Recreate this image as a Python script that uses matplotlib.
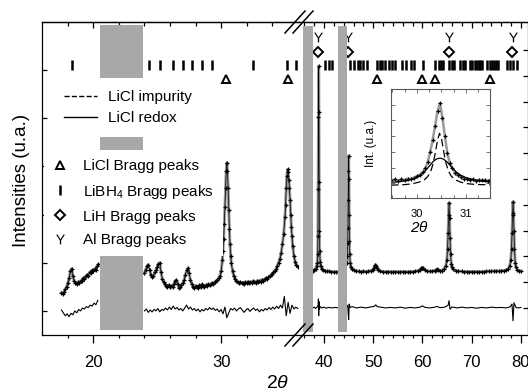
import numpy as np
import matplotlib
matplotlib.use("Agg")
import matplotlib.pyplot as plt
from matplotlib.lines import Line2D
from matplotlib.transforms import blended_transform_factory

plt.rcParams["font.family"] = ["Liberation Sans", "DejaVu Sans"]
plt.rcParams["mathtext.fontset"] = "custom"
plt.rcParams["mathtext.rm"] = "Liberation Sans"
plt.rcParams["mathtext.it"] = "Liberation Sans:italic"

# ---- observed pattern, low-angle part (left scale) ----
obs_a_x = [17.5, 17.6, 17.7, 17.8, 17.9, 18.0, 18.1, 18.2, 18.3, 18.4, 18.5, 18.6, 18.7, 18.8, 18.9,
           19.0, 19.1, 19.2, 19.3, 19.4, 19.5, 19.6, 19.7, 19.8, 19.9, 20.0, 20.1, 20.2, 20.3, 20.4]
obs_a_y = [0.38, 0.36, 0.40, 0.45, 0.50, 0.58, 0.68, 0.82, 0.88, 0.72, 0.62, 0.58, 0.55, 0.60, 0.58,
           0.63, 0.62, 0.68, 0.66, 0.72, 0.75, 0.73, 0.80, 0.78, 0.84, 0.82, 0.88, 0.86, 0.93, 0.97]

obs_b_x = [24.0, 24.1, 24.2, 24.3, 24.4, 24.5, 24.6, 24.7, 24.8, 24.9, 25.0, 25.1, 25.2, 25.3, 25.4,
           25.5, 25.6, 25.7, 25.8, 25.9, 26.0, 26.1, 26.2, 26.3, 26.4, 26.5, 26.6, 26.7, 26.8, 26.9,
           27.0, 27.1, 27.2, 27.3, 27.4, 27.5, 27.6, 27.7, 27.8, 27.9, 28.0, 28.1, 28.2, 28.3, 28.4,
           28.5, 28.6, 28.7, 28.8, 28.9, 29.0, 29.1, 29.2, 29.3, 29.4, 29.5, 29.6, 29.7, 29.8, 29.9,
           30.0, 30.1, 30.15, 30.2, 30.25, 30.3, 30.35, 30.4, 30.45, 30.5, 30.55, 30.6, 30.65, 30.7,
           30.75, 30.8, 30.9, 31.0, 31.1, 31.2, 31.3, 31.4, 31.5, 31.6, 31.7, 31.8, 31.9, 32.0, 32.1,
           32.2, 32.3, 32.4, 32.5, 32.6, 32.7, 32.8, 32.9, 33.0, 33.1, 33.2, 33.3, 33.4, 33.5, 33.6,
           33.7, 33.8, 33.9, 34.0, 34.1, 34.2, 34.3, 34.4, 34.5, 34.6, 34.7, 34.8, 34.9, 35.0, 35.05,
           35.1, 35.15, 35.2, 35.25, 35.3, 35.35, 35.4, 35.45, 35.5, 35.55, 35.6, 35.7, 35.8, 35.9, 36.0]
obs_b_y = [0.78, 0.86, 0.93, 0.96, 0.86, 0.74, 0.70, 0.73, 0.80, 0.85, 0.92, 0.98, 1.00, 0.80, 0.66,
           0.60, 0.55, 0.52, 0.50, 0.54, 0.49, 0.52, 0.50, 0.56, 0.62, 0.64, 0.55, 0.48, 0.50, 0.54,
           0.58, 0.64, 0.74, 0.84, 0.89, 0.78, 0.64, 0.56, 0.50, 0.47, 0.52, 0.50, 0.48, 0.53, 0.50,
           0.55, 0.52, 0.50, 0.54, 0.52, 0.56, 0.53, 0.55, 0.58, 0.56, 0.60, 0.62, 0.64, 0.68, 0.72,
           0.82, 1.05, 1.25, 1.50, 1.80, 2.15, 2.55, 2.90, 3.08, 2.90, 2.55, 2.10, 1.70, 1.38,
           1.15, 1.00, 0.82, 0.72, 0.66, 0.63, 0.60, 0.58, 0.60, 0.57, 0.59, 0.56, 0.60, 0.58, 0.61,
           0.57, 0.60, 0.59, 0.62, 0.60, 0.58, 0.62, 0.60, 0.63, 0.61, 0.65, 0.63, 0.66, 0.68, 0.67,
           0.70, 0.72, 0.74, 0.76, 0.80, 0.83, 0.87, 0.93, 1.00, 1.08, 1.20, 1.38, 1.60, 1.95, 2.20,
           2.55, 2.80, 2.94, 2.88, 2.72, 2.55, 2.30, 2.00, 1.75, 1.55, 1.35, 1.15, 1.02, 0.95, 0.92]

# difference curve, low-angle part (step 0.15 deg)
diff_a_start = 17.5
diff_a_y = [0.02, -0.04, -0.10, -0.06, -0.12, -0.05, -0.08, 0.00, -0.04, 0.03,
            0.00, 0.06, 0.04, 0.09, 0.07, 0.12, 0.10, 0.16, 0.13, 0.22]
diff_b_start = 24.0
diff_b_y = [0.00, 0.04, -0.03, 0.02, -0.02, 0.03, 0.00, 0.05, -0.02, 0.03, 0.01, 0.06, 0.02, 0.08,
            0.03, 0.10, 0.04, 0.07, 0.02, 0.05, 0.00, 0.06, 0.12, 0.04, 0.08, 0.02, 0.05, 0.00,
            0.04, -0.02, 0.03, 0.00, 0.05, 0.02, 0.07, 0.03, 0.06, 0.01, 0.04, -0.02, 0.03, -0.06,
            0.08, -0.14, -0.04, 0.05, 0.02, 0.06, 0.00, 0.04, 0.07, 0.02, -0.03, 0.02, 0.05, -0.01,
            0.03, 0.06, 0.01, 0.04, -0.02, 0.03, 0.00, 0.05, 0.02, 0.07, 0.03, 0.08, 0.04, 0.10,
            0.05, 0.12, 0.06, 0.30, -0.10, 0.18, -0.05, 0.12, 0.04, 0.08, 0.05]
diff_step = 0.15

# ---- observed pattern, high-angle part (right scale) ----
obs_c_x = [37.7, 38.0, 38.3, 38.5, 38.6, 38.7, 38.75, 38.8, 38.85, 38.9, 38.95, 39.0, 39.05, 39.1,
           39.2, 39.3, 39.5, 39.8, 40.2, 40.6, 41.0, 41.5, 42.0, 42.5, 42.9]
obs_c_y = [1.45, 1.48, 1.52, 1.62, 1.75, 2.10, 2.80, 4.60, 7.40, 9.38, 7.60, 4.90, 3.00, 2.20,
           1.80, 1.62, 1.52, 1.46, 1.44, 1.42, 1.42, 1.41, 1.40, 1.40, 1.40]

obs_d_x = [44.6, 44.7, 44.8, 44.85, 44.9, 44.95, 45.0, 45.05, 45.1, 45.15, 45.2, 45.3, 45.45, 45.7,
           46.0, 46.5, 47.0, 47.5, 48.0, 48.5, 49.0, 49.5, 49.9, 50.1, 50.3, 50.45, 50.6, 50.8,
           51.0, 51.4, 52.0, 52.5, 53.0, 53.5, 54.0, 54.5, 55.0, 55.5, 56.0, 56.5, 57.0, 57.5,
           58.0, 58.5, 59.0, 59.5, 59.8, 60.0, 60.2, 60.5, 61.0, 61.5, 62.0, 62.5, 62.8, 63.0,
           63.2, 63.5, 63.9, 64.3, 64.7, 64.95, 65.1, 65.2, 65.3, 65.4, 65.5, 65.6, 65.7, 65.85,
           66.0, 66.3, 66.8, 67.3, 68.0, 68.5, 69.0, 69.5, 70.0, 70.5, 71.0, 71.5, 72.0, 72.5,
           73.0, 73.5, 74.0, 74.5, 75.0, 75.5, 76.0, 76.5, 77.0, 77.4, 77.7, 77.95, 78.1, 78.2,
           78.3, 78.4, 78.5, 78.6, 78.7, 78.85, 79.0, 79.3, 79.6, 80.0]
obs_d_y = [1.75, 2.00, 2.50, 3.10, 4.20, 5.30, 5.90, 5.00, 3.60, 2.60, 2.10, 1.75, 1.58, 1.50,
           1.46, 1.44, 1.42, 1.41, 1.42, 1.41, 1.42, 1.44, 1.48, 1.55, 1.64, 1.68, 1.64, 1.54,
           1.47, 1.43, 1.41, 1.40, 1.41, 1.40, 1.40, 1.41, 1.40, 1.40, 1.41, 1.40, 1.40, 1.41,
           1.41, 1.42, 1.44, 1.48, 1.53, 1.56, 1.53, 1.47, 1.43, 1.42, 1.43, 1.45, 1.48, 1.50,
           1.48, 1.45, 1.45, 1.50, 1.62, 1.85, 2.30, 2.90, 3.60, 4.08, 3.50, 2.70, 2.10, 1.72,
           1.58, 1.50, 1.45, 1.43, 1.42, 1.41, 1.41, 1.40, 1.41, 1.40, 1.41, 1.40, 1.41, 1.41,
           1.42, 1.42, 1.42, 1.43, 1.43, 1.43, 1.44, 1.45, 1.47, 1.52, 1.62, 1.85, 2.30, 2.90,
           3.60, 4.12, 3.70, 3.00, 2.30, 1.75, 1.58, 1.48, 1.44, 1.42]

diff_c_x = [37.7, 38.0, 38.3, 38.6, 38.8, 38.85, 38.9, 38.95, 39.0, 39.2, 39.5, 39.9, 40.4, 41.0,
            41.6, 42.2, 42.9]
diff_c_y = [0.00, 0.03, -0.02, 0.04, 0.10, 0.35, -0.30, 0.25, -0.05, 0.05, 0.00, 0.03, -0.01, 0.02,
            0.00, 0.02, 0.00]
diff_d_x = [44.6, 44.8, 44.9, 45.0, 45.1, 45.3, 45.8, 46.5, 47.5, 48.5, 49.5, 50.2, 50.5, 50.8,
            51.5, 52.5, 53.5, 54.5, 55.5, 56.5, 57.5, 58.5, 59.5, 60.0, 60.5, 61.5, 62.5, 63.0,
            63.5, 64.5, 65.2, 65.4, 65.6, 66.0, 67.0, 68.0, 69.0, 70.0, 71.0, 72.0, 73.0, 74.0,
            75.0, 76.0, 77.0, 77.8, 78.2, 78.4, 78.6, 79.0, 79.5, 80.0]
diff_d_y = [0.05, 0.10, -0.20, -0.45, 0.15, 0.02, 0.05, 0.00, 0.03, 0.00, 0.04, 0.06, 0.12, 0.05,
            0.03, 0.00, 0.02, 0.00, 0.03, -0.01, 0.02, 0.00, 0.03, 0.08, 0.02, 0.00, 0.03, 0.06,
            0.01, 0.03, 0.10, 0.28, -0.05, 0.04, 0.00, 0.03, 0.00, 0.02, -0.01, 0.02, 0.00, 0.03,
            0.01, 0.02, 0.00, 0.04, 0.15, -0.50, 0.20, 0.02, 0.00, 0.02]

# excluded regions
excluded_left = (20.55, 23.85)
excluded_right = [(35.8, 37.7), (42.9, 44.6)]

# Bragg peak positions
licl_peaks = [30.4, 35.2, 50.7, 60.0, 62.6, 73.8]
libh4_peaks = [18.33, 24.36, 25.22, 26.26, 27.0, 27.75, 28.5, 29.3, 32.5, 35.17, 35.88,
               40.2, 40.9, 41.6, 45.3, 46.1, 46.8, 47.3, 47.9, 48.8, 50.7, 51.4, 51.7, 52.4,
               53.1, 53.8, 54.4, 55.8, 56.7, 57.6, 58.3, 60.1, 62.6, 63.4, 63.8, 64.2, 65.3,
               66.0, 66.4, 67.6, 68.2, 68.7, 69.7, 70.1, 70.7, 71.0, 71.4, 71.7, 72.1, 73.1,
               73.7, 74.1, 74.6, 75.0, 75.4, 77.1, 77.8, 78.5, 79.2]
lih_peaks = [38.85, 44.95, 65.35, 78.2]
al_peaks = [38.85, 44.95, 65.35, 78.35]

# inset: LiCl (111) reflection
ins_obs_x = [29.48, 29.55, 29.62, 29.68, 29.75, 29.82, 29.88, 29.94, 30.0, 30.06, 30.12, 30.17,
             30.22, 30.27, 30.32, 30.37, 30.42, 30.47, 30.52, 30.57, 30.62, 30.67, 30.72, 30.78,
             30.84, 30.9, 30.96, 31.02, 31.08, 31.14, 31.2, 31.26, 31.32, 31.38, 31.44, 31.49]
ins_obs_y = [0.18, 0.24, 0.15, 0.26, 0.20, 0.30, 0.28, 0.36, 0.45, 0.55, 0.72, 0.95,
             1.35, 2.00, 2.75, 3.65, 4.60, 5.10, 4.15, 3.00, 1.90, 1.30, 0.95, 0.66,
             0.50, 0.40, 0.30, 0.28, 0.22, 0.25, 0.16, 0.22, 0.18, 0.20, 0.15, 0.18]
ins_imp_x = [29.47, 29.7, 29.9, 30.05, 30.15, 30.22, 30.28, 30.33, 30.38, 30.42, 30.46, 30.5,
             30.54, 30.59, 30.64, 30.7, 30.78, 30.88, 31.0, 31.2, 31.49]
ins_imp_y = [-0.12, -0.10, -0.04, 0.08, 0.22, 0.42, 0.75, 1.25, 2.05, 2.75, 3.18, 2.85,
             2.10, 1.30, 0.80, 0.45, 0.22, 0.08, -0.02, -0.08, -0.10]
ins_red_x = [29.47, 29.65, 29.8, 29.95, 30.05, 30.15, 30.25, 30.33, 30.4, 30.47, 30.54, 30.62,
             30.7, 30.8, 30.9, 31.0, 31.15, 31.3, 31.49]
ins_red_y = [0.06, 0.10, 0.17, 0.30, 0.45, 0.72, 1.08, 1.38, 1.55, 1.60, 1.54, 1.34,
             1.05, 0.72, 0.50, 0.36, 0.22, 0.14, 0.08]

W, H = 528, 392
GRAY_BAR = "#a8a8a8"
GRAY_FIT = "#9a9a9a"
BREAK_X = 36.1
Y_MARK = r"$\mathrm{Y}$"


def rect(x0, y0, x1, y1):
    return [x0 / W, 1 - y1 / H, (x1 - x0) / W, (y1 - y0) / H]


def draw_obs(ax, x, y):
    ax.plot(x, y, color=GRAY_FIT, lw=2.1, zorder=2, solid_capstyle="round")
    ax.plot(x, y, color="black", lw=0.5, marker="+", ms=3.5, mew=0.9, zorder=2.1)


def draw_rows(ax, lo, hi):
    tr = blended_transform_factory(ax.transData, ax.transAxes)
    pick = lambda vals: [v for v in vals if lo <= v < hi]
    kw = dict(ls="none", transform=tr, clip_on=False, zorder=2)
    ax.plot(pick(al_peaks), [0.953] * len(pick(al_peaks)), marker=Y_MARK, ms=7, mew=0,
            color="black", **kw)
    ax.plot(pick(lih_peaks), [0.905] * len(pick(lih_peaks)), marker="D", ms=5.5, mew=1.4,
            mfc="white", mec="black", **kw)
    ax.plot(pick(libh4_peaks), [0.863] * len(pick(libh4_peaks)), marker="|", ms=7, mew=1.8,
            color="black", **kw)
    ax.plot(pick(licl_peaks), [0.817] * len(pick(licl_peaks)), marker="^", ms=6, mew=1.4,
            mfc="white", mec="black", **kw)


fig = plt.figure(figsize=(W / 100, H / 100), dpi=100)
ax1 = fig.add_axes(rect(42, 22, 299, 335))
ax2 = fig.add_axes(rect(299, 22, 528, 335))

ax1.set_xlim(15.98, BREAK_X)
ax1.set_ylim(-0.5, 6.0)
ax2.set_xlim(34.9, 81.45)
ax2.set_ylim(-1.05, 11.09)

for ax in (ax1, ax2):
    for s in ax.spines.values():
        s.set_linewidth(0.9)
ax1.spines["right"].set_visible(False)
ax2.spines["left"].set_visible(False)

# left panel
draw_obs(ax1, obs_a_x, obs_a_y)
draw_obs(ax1, obs_b_x, obs_b_y)
ax1.plot(diff_a_start + diff_step * np.arange(len(diff_a_y)), diff_a_y, color="black", lw=0.8)
ax1.plot(diff_b_start + diff_step * np.arange(len(diff_b_y)), diff_b_y, color="black", lw=0.8)
ax1.axvspan(*excluded_left, ymin=0.016, ymax=0.99, color=GRAY_BAR, lw=0, zorder=3)
draw_rows(ax1, 0, BREAK_X)

# right panel
draw_obs(ax2, obs_c_x, obs_c_y)
draw_obs(ax2, obs_d_x, obs_d_y)
ax2.plot(diff_c_x, diff_c_y, color="black", lw=0.8)
ax2.plot(diff_d_x, diff_d_y, color="black", lw=0.8)
for a, b in excluded_right:
    ax2.axvspan(a, b, ymin=0.01, ymax=0.987, color=GRAY_BAR, lw=0, zorder=3)
draw_rows(ax2, BREAK_X, 100)

# ticks
ax1.set_xticks([20, 30])
ax1.set_xticks([18, 22, 24, 26, 28, 32, 34], minor=True)
ax2.set_xticks([40, 50, 60, 70, 80])
ax2.set_xticks([36, 38, 42, 44, 46, 48, 52, 54, 56, 58, 62, 64, 66, 68, 72, 74, 76, 78], minor=True)
ax1.set_yticks([0, 1, 2, 3, 4, 5])
ax2.set_yticks(range(0, 11))
for ax in (ax1, ax2):
    ax.tick_params(axis="x", which="major", direction="out", length=5.5, width=0.9,
                   labelsize=12, pad=9)
    ax.tick_params(axis="x", which="minor", direction="out", length=2.5, width=0.9)
    top = ax.secondary_xaxis("top")
    top.set_xticks(ax.get_xticks())
    top.set_xticks(ax.get_xticks(minor=True), minor=True)
    top.tick_params(axis="x", which="major", direction="in", length=4.5, width=0.9, labeltop=False)
    top.tick_params(axis="x", which="minor", direction="in", length=3, width=0.9)
    top.spines["top"].set_linewidth(0.9)
ax1.tick_params(axis="y", direction="in", length=3.5, width=0.9, labelleft=False)
ax2.tick_params(axis="y", direction="in", length=3.5, width=0.9, left=False, right=True,
                labelleft=False, labelright=False)

# axis break marks
for cx in (295, 303):
    for cy in (22, 335):
        fig.add_artist(Line2D([(cx - 10) / W, (cx + 10) / W], [1 - (cy + 11) / H, 1 - (cy - 11) / H],
                              color="black", lw=1.1))

# legends
leg1 = ax1.legend(
    [Line2D([], [], color="black", ls="--", lw=1), Line2D([], [], color="black", lw=1)],
    ["LiCl impurity", "LiCl redox"],
    loc="upper left", bbox_to_anchor=(51.5 / W, 1 - 78 / H), bbox_transform=fig.transFigure,
    borderaxespad=0, borderpad=0.8, labelspacing=0.45, handlelength=2.2, handletextpad=0.7,
    fontsize=11, frameon=True, fancybox=False, facecolor="white", edgecolor="none", framealpha=1)
ax1.add_artist(leg1)
ax1.legend(
    [Line2D([], [], ls="none", marker="^", ms=6, mew=1.4, mfc="white", mec="black"),
     Line2D([], [], ls="none", marker="|", ms=7, mew=1.8, color="black"),
     Line2D([], [], ls="none", marker="D", ms=5.5, mew=1.4, mfc="white", mec="black"),
     Line2D([], [], ls="none", marker=Y_MARK, ms=7, mew=0, color="black")],
    ["LiCl Bragg peaks", "LiBH$_4$ Bragg peaks", "LiH Bragg peaks", "Al Bragg peaks"],
    loc="upper left", bbox_to_anchor=(43.5 / W, 1 - 150 / H), bbox_transform=fig.transFigure,
    borderaxespad=0, borderpad=0.62, labelspacing=0.6, handlelength=0.9, handletextpad=1.05,
    fontsize=11, frameon=True, fancybox=False, facecolor="white", edgecolor="none", framealpha=1)

fig.text(278 / W, 1 - 383 / H, r"2$\theta$", ha="center", va="center", fontsize=14)
fig.text(22 / W, 1 - 180 / H, "Intensities (u.a.)", rotation=90, ha="center", va="center",
         fontsize=13.5)

# inset
axin = fig.add_axes(rect(391, 89, 490, 198))
axin.plot(ins_obs_x, ins_obs_y, color=GRAY_FIT, lw=1.8)
axin.plot(ins_obs_x, ins_obs_y, ls="none", marker="+", ms=3.5, mew=0.9, color="black")
axin.plot(ins_imp_x, ins_imp_y, color="black", lw=0.9, dashes=(6, 3))
axin.plot(ins_red_x, ins_red_y, color="black", lw=0.9)
axin.set_xlim(29.47, 31.49)
axin.set_ylim(-0.94, 6.0)
axin.set_xticks([30, 31])
axin.set_xticks([29.5, 29.75, 30.25, 30.5, 30.75, 31.25], minor=True)
axin.set_yticks([0, 1, 2, 3, 4, 5])
axin.tick_params(which="both", direction="in", top=True, right=True, width=0.6, labelleft=False,
                 labelsize=8, pad=8, colors="0.35", labelcolor="black")
axin.tick_params(which="major", length=3)
axin.tick_params(which="minor", length=2)
for s in axin.spines.values():
    s.set_color("0.35")
    s.set_linewidth(0.8)
axin.set_xlabel(r"2$\theta$", fontsize=11, fontstyle="italic")
axin.xaxis.set_label_coords((419 - 391) / 99, -(220 - 198) / 109)
axin.set_ylabel("Int. (u.a.)", fontsize=8.5)
axin.yaxis.set_label_coords(-(391 - 377) / 99, 0.5)

fig.savefig("out.png", dpi=100)
